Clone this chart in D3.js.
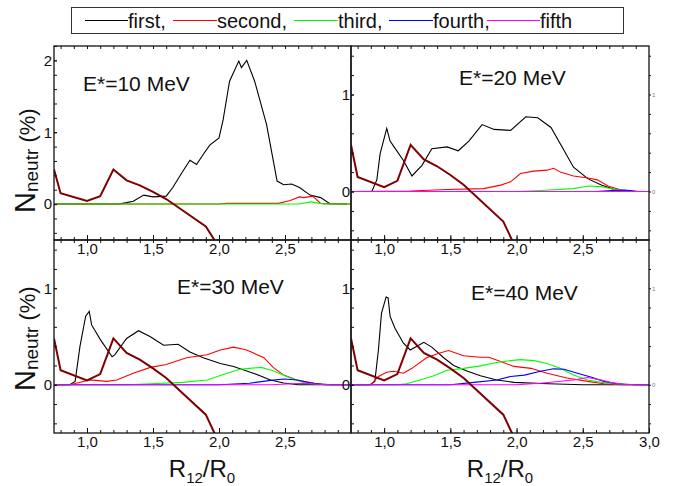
<!DOCTYPE html>
<html>
<head>
<meta charset="utf-8">
<script src="https://cdn.jsdelivr.net/npm/d3@7"></script>
<style>
body{margin:0;background:#fff}
text{font-family:"Liberation Sans",Arial,sans-serif}
</style>
</head>
<body>
<div id="chart"></div>
<script>
// legend / series names
var seriesNames = ["first,", "second,", "third,", "fourth,", "fifth"]
var seriesColors = ["#000000", "#ff0000", "#00ff00", "#0000ff", "#ff00ff"]
var panelLabels = ["E*=10 MeV", "E*=20 MeV", "E*=30 MeV", "E*=40 MeV"]
var xTickLabels = [1.0, 1.5, 2.0, 2.5, 3.0]

// dark red reference curve, same in all panels
var potential = [[0.75,0.48],[0.8,0.15],[1.0,0.045],[1.1,0.11],[1.2,0.48],[1.3,0.33],[1.4,0.26],[1.5,0.17],[1.6,0.07],[1.9,-0.31],[2.0,-0.6]]

// E*=10 MeV
var first10 = [[0.75,0],[1.24,0],[1.3,0.02],[1.35,0.04],[1.43,0.125],[1.5,0.10],[1.6,0.11],[1.65,0.23],[1.72,0.44],[1.78,0.61],[1.83,0.55],[1.88,0.69],[1.93,0.82],[2.0,0.92],[2.03,1.16],[2.08,1.71],[2.15,1.99],[2.17,1.90],[2.21,2.0],[2.27,1.71],[2.36,1.11],[2.44,0.32],[2.49,0.27],[2.55,0.28],[2.61,0.23],[2.69,0.125],[2.77,0.09],[2.84,0.005],[2.97,0]]
var second10 = [[0.75,0],[2.0,0],[2.06,0.01],[2.3,0.01],[2.45,0.01],[2.54,0.05],[2.61,0.10],[2.64,0.09],[2.71,0.11],[2.77,0.01],[2.85,0],[3.0,0]]
var third10 = [[0.75,0],[2.6,0],[2.7,0.03],[2.76,0.01],[2.8,0],[3.0,0]]

// E*=20 MeV
var first20 = [[0.75,0],[0.907,0],[0.945,0.12],[0.97,0.39],[1.02,0.65],[1.045,0.52],[1.07,0.47],[1.146,0.32],[1.21,0.16],[1.286,0.27],[1.36,0.44],[1.475,0.46],[1.56,0.42],[1.64,0.52],[1.74,0.69],[1.83,0.64],[1.955,0.63],[2.07,0.77],[2.16,0.76],[2.26,0.66],[2.36,0.42],[2.43,0.25],[2.54,0.13],[2.64,0.066],[2.76,0.01],[2.85,0],[3.0,0]]
var second20 = [[0.75,0],[1.2,0.005],[1.475,0.02],[1.75,0.03],[1.88,0.066],[1.955,0.1],[2.03,0.185],[2.13,0.21],[2.23,0.22],[2.28,0.24],[2.33,0.2],[2.43,0.16],[2.54,0.14],[2.61,0.12],[2.69,0.056],[2.79,0.015],[2.9,0],[3.0,0]]
var third20 = [[0.75,0],[2.0,0],[2.18,0.01],[2.43,0.03],[2.54,0.056],[2.64,0.05],[2.74,0.02],[2.9,0],[3.0,0]]
var fourth20 = [[0.75,0],[2.6,0],[2.72,0.01],[2.82,0.015],[2.92,0],[3.0,0]]
var fifth20 = [[0.75,0],[3.0,0]]

// E*=30 MeV
var first30 = [[0.75,0],[0.87,0],[0.91,0.035],[0.947,0.40],[0.99,0.71],[1.017,0.76],[1.035,0.62],[1.10,0.47],[1.19,0.29],[1.21,0.31],[1.30,0.48],[1.39,0.56],[1.477,0.50],[1.58,0.41],[1.69,0.42],[1.78,0.34],[1.88,0.28],[2.01,0.22],[2.11,0.19],[2.26,0.12],[2.39,0.05],[2.49,0.018],[2.6,0],[3.0,0]]
var second30 = [[0.75,0],[0.87,0],[0.95,0.025],[1.02,0.05],[1.15,0.035],[1.225,0.05],[1.35,0.12],[1.48,0.18],[1.60,0.21],[1.755,0.28],[1.91,0.31],[2.01,0.36],[2.11,0.39],[2.21,0.36],[2.34,0.28],[2.41,0.18],[2.49,0.10],[2.59,0.05],[2.72,0.015],[2.85,0],[3.0,0]]
var third30 = [[0.75,0],[1.3,0],[1.48,0.01],[1.73,0.025],[1.91,0.05],[2.06,0.12],[2.16,0.16],[2.23,0.17],[2.32,0.18],[2.41,0.145],[2.54,0.07],[2.64,0.025],[2.8,0],[3.0,0]]
var fourth30 = [[0.75,0],[2.0,0],[2.23,0.015],[2.39,0.045],[2.49,0.06],[2.59,0.05],[2.69,0.02],[2.8,0],[3.0,0]]
var fifth30 = [[0.75,0],[2.4,0],[2.55,0.01],[2.65,0.015],[2.75,0.005],[2.85,0],[3.0,0]]

// E*=40 MeV
var first40 = [[0.75,0],[0.894,0],[0.93,0.035],[0.957,0.36],[0.98,0.74],[1.015,0.91],[1.03,0.90],[1.045,0.71],[1.08,0.59],[1.146,0.43],[1.197,0.36],[1.248,0.40],[1.30,0.44],[1.36,0.39],[1.45,0.28],[1.525,0.20],[1.63,0.14],[1.727,0.093],[1.85,0.05],[1.98,0.025],[2.24,0.01],[2.5,0],[3.0,0]]
var second40 = [[0.75,0],[0.9,0],[0.957,0.086],[1.02,0.13],[1.07,0.14],[1.146,0.12],[1.21,0.17],[1.32,0.28],[1.42,0.33],[1.487,0.355],[1.60,0.30],[1.727,0.285],[1.79,0.285],[1.88,0.24],[1.98,0.19],[2.11,0.17],[2.23,0.12],[2.38,0.07],[2.535,0.035],[2.66,0.01],[2.8,0],[3.0,0]]
var third40 = [[0.75,0],[1.1,0],[1.17,0.01],[1.27,0.05],[1.37,0.09],[1.475,0.15],[1.60,0.17],[1.727,0.196],[1.85,0.23],[1.955,0.25],[2.03,0.26],[2.13,0.25],[2.23,0.22],[2.33,0.17],[2.43,0.10],[2.535,0.05],[2.64,0.025],[2.74,0.01],[2.85,0],[3.0,0]]
var fourth40 = [[0.75,0],[1.5,0],[1.68,0.025],[1.85,0.05],[1.955,0.086],[2.06,0.10],[2.18,0.14],[2.28,0.165],[2.36,0.16],[2.46,0.12],[2.56,0.08],[2.66,0.035],[2.76,0.01],[2.9,0],[3.0,0]]
var fifth40 = [[0.75,0],[2.0,0],[2.18,0.015],[2.43,0.05],[2.535,0.075],[2.64,0.05],[2.71,0.025],[2.8,0.005],[2.9,0],[3.0,0]]

var width = 675, height = 486
var colX = [[54,351],[351,649]]
var rowY = [[46,240],[240,433]]

var panels = [
	{col:0, row:0, ymax:2.2, series:[first10,second10,third10], lx:83, ly:91},
	{col:1, row:0, ymax:1.5, series:[first20,second20,third20,fourth20,fifth20], lx:459, ly:85},
	{col:0, row:1, ymax:1.5, series:[first30,second30,third30,fourth30,fifth30], lx:177, ly:294},
	{col:1, row:1, ymax:1.5, series:[first40,second40,third40,fourth40,fifth40], lx:471, ly:300}
]

var svg = d3.select("#chart").append("svg")
	.attr("width", width)
	.attr("height", height)

var fmt = function(d){ return d3.format(".1f")(d).replace(".", ",") }

panels.forEach(function(p, i){
	var x = d3.scaleLinear().domain([0.75, 3.0]).range(colX[p.col])
	var y = d3.scaleLinear().domain([-0.5, p.ymax]).range([rowY[p.row][1], rowY[p.row][0]])
	var g = svg.append("g")

	g.append("clipPath").attr("id", "clip"+i)
		.append("rect")
		.attr("x", x.range()[0]).attr("y", y.range()[1])
		.attr("width", x.range()[1]-x.range()[0]).attr("height", y.range()[0]-y.range()[1])

	var line = d3.line().x(function(d){return x(d[0])}).y(function(d){return y(d[1])})
	var plot = g.append("g").attr("clip-path", "url(#clip"+i+")")

	p.series.forEach(function(s, k){
		plot.append("path").attr("d", line(s))
			.attr("fill", "none").attr("stroke", seriesColors[k]).attr("stroke-width", 1.1)
	})
	plot.append("path").attr("d", line(potential))
		.attr("fill", "none").attr("stroke", "#7f0000").attr("stroke-width", 2)

	var minorX = d3.range(8, 30).map(function(v){return v/10})
	var majorX = xTickLabels.filter(function(v){ return p.col==1 ? (p.row==1 || v<3) : v<3 })
	var minorY = d3.range(-2, Math.floor(p.ymax*5)+1).map(function(v){return v/5})
	var majorY = d3.range(0, Math.floor(p.ymax)+1)

	// bottom
	g.append("g").attr("transform", "translate(0,"+y.range()[0]+")")
		.call(d3.axisBottom(x).tickValues(minorX).tickSize(-3).tickFormat(""))
	g.append("g").attr("class", "lab").attr("transform", "translate(0,"+y.range()[0]+")")
		.call(d3.axisBottom(x).tickValues(majorX).tickSize(-5).tickPadding(3).tickFormat(fmt))
	// top
	g.append("g").attr("transform", "translate(0,"+y.range()[1]+")")
		.call(d3.axisTop(x).tickValues(minorX).tickSize(-3).tickFormat(""))
	// left
	g.append("g").attr("transform", "translate("+x.range()[0]+",0)")
		.call(d3.axisLeft(y).tickValues(minorY).tickSize(-3).tickFormat(""))
	g.append("g").attr("class", "lab").attr("transform", "translate("+x.range()[0]+",0)")
		.call(d3.axisLeft(y).tickValues(majorY).tickSize(-3).tickPadding(p.col==0 ? 2 : 1).tickFormat(d3.format("d")))
	// right side, only outer panels
	if (p.col==1){
		g.append("g").attr("class", "tiny").attr("transform", "translate("+x.range()[1]+",0)")
			.call(d3.axisRight(y).tickValues(minorY).tickSize(2).tickPadding(1)
				.tickFormat(function(d){ return (d==0 || d==1) ? d : "" }))
	}

	g.selectAll(".domain").remove()
	g.selectAll(".tick line").attr("stroke", "#111").attr("stroke-width", 1)
	g.selectAll(".lab text").attr("font-size", 15).attr("fill", "#111")
		.style("font-family", "'Liberation Sans', Arial, sans-serif")
	g.selectAll(".tiny text").attr("font-size", 6).attr("fill", "#777")
	g.selectAll(".tick text").style("font-family", "'Liberation Sans', Arial, sans-serif")

	g.append("rect")
		.attr("x", x.range()[0]).attr("y", y.range()[1])
		.attr("width", x.range()[1]-x.range()[0]).attr("height", y.range()[0]-y.range()[1])
		.attr("fill", "none").attr("stroke", "#111").attr("stroke-width", 1.3)

	g.append("text").attr("x", p.lx).attr("y", p.ly)
		.attr("font-size", 21).attr("fill", "#111")
		.text(panelLabels[i])
})

// y titles
;[213, 391].forEach(function(yy){
	var t = svg.append("text")
		.attr("transform", "translate(35,"+yy+") rotate(-90)")
		.attr("fill", "#111")
	t.append("tspan").attr("font-size", 29).text("N")
	t.append("tspan").attr("font-size", 19).attr("dy", 3).text("neutr")
	t.append("tspan").attr("font-size", 22).attr("dy", -3).text(" (%)")
})

// x titles
;[202, 500].forEach(function(xx){
	var t = svg.append("text").attr("x", xx).attr("y", 477)
		.attr("text-anchor", "middle").attr("fill", "#111")
	t.append("tspan").attr("font-size", 24).text("R")
	t.append("tspan").attr("font-size", 15).attr("dy", 6).text("12")
	t.append("tspan").attr("font-size", 24).attr("dy", -6).text("/R")
	t.append("tspan").attr("font-size", 15).attr("dy", 6).text("0")
})

// legend
var legendX = [85, 173, 294, 389, 487]
var legendLen = [43, 44, 44, 44, 53]
var legend = svg.append("g")
legend.append("rect").attr("x", 71.5).attr("y", 7.5).attr("width", 552).attr("height", 26)
	.attr("fill", "#fff").attr("stroke", "#333").attr("stroke-width", 1)
seriesNames.forEach(function(n, k){
	legend.append("line")
		.attr("x1", legendX[k]).attr("x2", legendX[k]+legendLen[k])
		.attr("y1", 20.5).attr("y2", 20.5)
		.attr("stroke", seriesColors[k]).attr("stroke-width", 1.2)
	legend.append("text").attr("x", legendX[k]+legendLen[k]).attr("y", 28)
		.attr("font-size", 20).attr("fill", "#111").text(n)
})
</script>
</body>
</html>
